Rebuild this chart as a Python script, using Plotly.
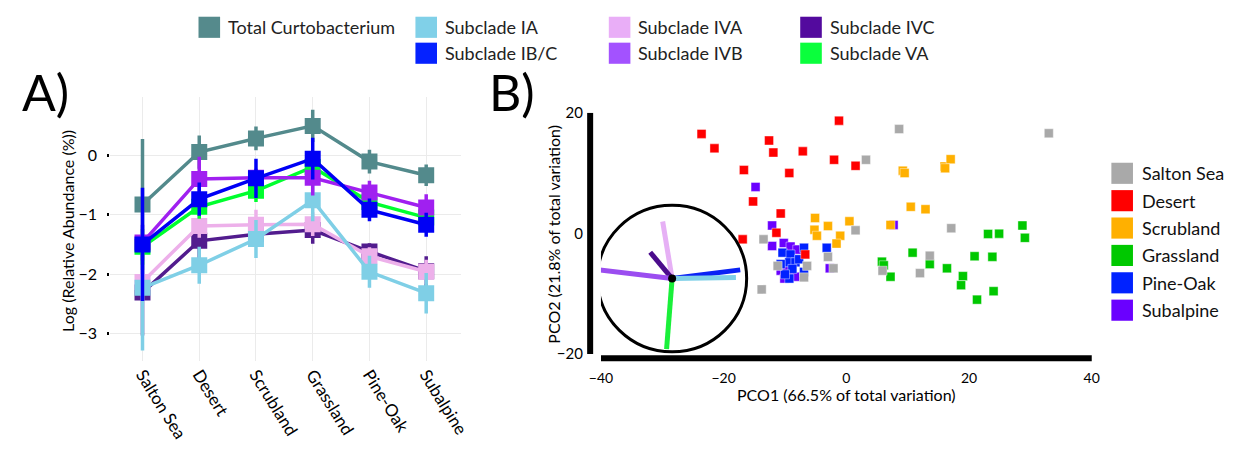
import plotly.graph_objects as go

W, H = 1249, 457
FONT = "Lato"

# ---------------- Panel A data ----------------
habitats = ["Salton Sea", "Desert", "Scrubland", "Grassland", "Pine-Oak", "Subalpine"]
series_names = ["Total Curtobacterium", "Subclade IA", "Subclade IB/C", "Subclade IVA",
                "Subclade IVB", "Subclade IVC", "Subclade VA"]

total_mean = [-0.83, 0.05, 0.28, 0.49, -0.11, -0.34]
total_err = [1.10, 0.28, 0.20, 0.27, 0.20, 0.18]
ia_mean = [-2.23, -1.85, -1.41, -0.76, -1.96, -2.32]
ia_err = [1.05, 0.31, 0.32, 0.35, 0.27, 0.34]
ibc_mean = [-1.50, -0.74, -0.39, -0.06, -0.92, -1.17]
ibc_err = [0.95, 0.28, 0.33, 0.35, 0.19, 0.20]
iva_mean = [-2.13, -1.19, -1.17, -1.16, -1.70, -1.96]
iva_err = [0.50, 0.20, 0.25, 0.20, 0.15, 0.20]
ivb_mean = [-1.47, -0.40, -0.38, -0.38, -0.63, -0.88]
ivb_err = [0.30, 0.37, 0.15, 0.30, 0.20, 0.22]
ivc_mean = [-2.31, -1.44, -1.33, -1.26, -1.62, -1.95]
ivc_err = [0.72, 0.35, 0.10, 0.23, 0.14, 0.25]
va_mean = [-1.54, -0.87, -0.60, -0.20, -0.79, -1.05]
va_err = [0.30, 0.20, 0.19, 0.20, 0.15, 0.15]

line_colors = ["#538A8C", "#7FCFE6", "#0000F5", "#EDB0EA", "#A020F0", "#521C8E", "#00FF2E"]
legend_colors = ["#558A8C", "#80D0E8", "#0522FF", "#E9AEF7", "#A352FF", "#530A9E", "#0AFF3C"]

# ---------------- Panel B data ----------------
habitat_colors = ["#A9A9A9", "#FF0000", "#FFB000", "#00C800", "#0022FF", "#6A00FF"]

salton_x = [-13.5, -13.8, -11.2, -6.4, -6.9, -3.0, -2.1, 1.5, 8.6, 33.0, 3.2, 17.1, 13.6, 5.9, 12.0]
salton_y = [-1.0, -9.3, -5.4, -5.4, -7.3, -3.9, -5.8, 0.5, 17.3, 16.6, 12.2, 0.85, -3.7, -6.2, -6.6]
desert_x = [-23.6, -21.5, -12.6, -11.9, -7.1, -1.2, -2.0, 1.5, -16.7, -9.3, -15.2, -10.7, -11.4, -16.9, -6.7]
desert_y = [16.5, 14.1, 15.4, 13.4, 13.6, 18.7, 12.2, 11.2, 10.5, 10.0, 5.3, 3.3, 0.1, -1.0, -3.5]
scrub_x = [-5.1, -3.0, -5.2, -4.8, -1.0, -1.6, 0.5, 7.2, 9.2, 9.5, 16.0, 17.0, 16.1, 10.5, 12.9]
scrub_y = [2.55, 1.2, 0.6, -0.4, -0.4, -1.7, 2.0, 1.4, 10.4, 10.0, 11.1, 12.3, 10.8, 4.4, 4.0]
grass_x = [28.7, 29.1, 23.1, 24.9, 10.8, 20.9, 23.8, 5.8, 6.1, 13.6, 16.4, 7.2, 19.0, 18.7, 24.0, 21.3]
grass_y = [1.3, -0.75, -0.1, -0.05, -3.2, -3.8, -3.9, -4.7, -5.3, -5.1, -5.8, -7.2, -7.1, -8.6, -9.6, -11.0]
pine_x = [-6.9, -10.4, -9.1, -9.3, -8.3, -10.7, -6.9, -9.3, -3.2, -8.8, -7.7, -10.0]
pine_y = [-2.4, -3.2, -3.5, -4.8, -4.8, -5.1, -6.4, -7.5, -2.4, -5.9, -4.3, -6.8]
subalp_x = [-14.8, -12.1, -12.1, -10.2, -9.1, -8.0, -10.7, -10.1, -8.3, -2.7, 7.7, -9.6]
subalp_y = [7.7, 1.3, -2.1, -1.6, -2.2, -2.7, -6.2, -7.5, -7.2, -5.8, 1.4, -6.2]

# biplot (vector overlay) data
biplot_center = (-28.4, -7.5)
biplot_radius = 12.15
vector_names = ["Subclade IVA", "Subclade IVC", "Subclade IVB", "Subclade IB/C", "Subclade IA", "Subclade VA"]
vector_dx = [-1.54, -3.57, -11.78, 11.10, 10.40, -0.90]
vector_dy = [9.46, 4.36, 1.44, 1.44, 0.16, -11.70]
vector_colors = ["#E6B0F5", "#4B0C8C", "#9B4DF0", "#0A22F5", "#7FD0E8", "#1AF03A"]


def px(x):
    return x / W


def py(y):
    return 1 - y / H


fig = go.Figure()

panelA = {
    "Total Curtobacterium": (total_mean, total_err),
    "Subclade IVC": (ivc_mean, ivc_err),
    "Subclade IVA": (iva_mean, iva_err),
    "Subclade IA": (ia_mean, ia_err),
    "Subclade VA": (va_mean, va_err),
    "Subclade IVB": (ivb_mean, ivb_err),
    "Subclade IB/C": (ibc_mean, ibc_err),
}
for name, (mean, err) in panelA.items():
    c = line_colors[series_names.index(name)]
    fig.add_trace(go.Scatter(
        x=habitats, y=mean, name=name, mode="lines+markers",
        line=dict(color=c, width=3.5),
        marker=dict(symbol="square", size=16, color=c, line=dict(width=0)),
        error_y=dict(type="data", array=err, thickness=3.5, width=0, color=c),
        xaxis="x", yaxis="y", showlegend=False,
    ))

groups = [
    ("Subalpine", subalp_x, subalp_y),
    ("Pine-Oak", pine_x, pine_y),
    ("Grassland", grass_x, grass_y),
    ("Scrubland", scrub_x, scrub_y),
    ("Desert", desert_x, desert_y),
    ("Salton Sea", salton_x, salton_y),
]
for name, xs, ys in groups:
    c = habitat_colors[habitats.index(name)]
    fig.add_trace(go.Scatter(
        x=xs, y=ys, mode="markers", name=name,
        marker=dict(symbol="square", size=9, color=c,
                    line=dict(width=0.6, color="rgba(255,255,255,0.7)")),
        xaxis="x2", yaxis="y2", showlegend=False,
    ))

cx, cy = biplot_center
for name, dx, dy, c in zip(vector_names, vector_dx, vector_dy, vector_colors):
    fig.add_trace(go.Scatter(
        x=[cx, cx + dx], y=[cy, cy + dy], mode="lines", name=name,
        line=dict(color=c, width=5), xaxis="x2", yaxis="y2", showlegend=False,
    ))
fig.add_trace(go.Scatter(
    x=[cx], y=[cy], mode="markers", marker=dict(color="black", size=8),
    xaxis="x2", yaxis="y2", showlegend=False,
))

shapes = []
annotations = []

shapes.append(dict(type="circle", xref="x2", yref="y2",
                   x0=cx - biplot_radius, x1=cx + biplot_radius,
                   y0=cy - biplot_radius, y1=cy + biplot_radius,
                   line=dict(color="black", width=3)))
# Panel B range-frame axis bars
shapes.append(dict(type="line", xref="paper", yref="y2", x0=px(589), x1=px(589),
                   y0=-20, y1=20, line=dict(color="black", width=6)))
shapes.append(dict(type="line", xref="x2", yref="paper", x0=-40, x1=40.3,
                   y0=py(362.5), y1=py(362.5), line=dict(color="black", width=6)))

legend_slots = {
    "Total Curtobacterium": (190, 18),
    "Subclade IA": (411, 18),
    "Subclade IB/C": (411, 45),
    "Subclade IVA": (608, 18),
    "Subclade IVB": (608, 45),
    "Subclade IVC": (803, 18),
    "Subclade VA": (803, 45),
}
for name, (lx, ly) in legend_slots.items():
    c = legend_colors[series_names.index(name)]
    shapes.append(dict(type="rect", xref="paper", yref="paper",
                       x0=px(lx), x1=px(lx + 22), y0=py(ly + 11), y1=py(ly - 11),
                       fillcolor=c, line=dict(width=0)))
    annotations.append(dict(text=name, xref="paper", yref="paper", x=px(lx + 28), y=py(ly),
                            xanchor="left", yanchor="middle", showarrow=False,
                            font=dict(size=18, color="#222222", family=FONT)))

for i, name in enumerate(habitats):
    ly = 170 + i * 28.5
    shapes.append(dict(type="rect", xref="paper", yref="paper",
                       x0=px(1120), x1=px(1142), y0=py(ly + 11), y1=py(ly - 11),
                       fillcolor=habitat_colors[i], line=dict(width=0)))
    annotations.append(dict(text=name, xref="paper", yref="paper", x=px(1149), y=py(ly),
                            xanchor="left", yanchor="middle", showarrow=False,
                            font=dict(size=18, color="#111111", family=FONT)))

annotations += [
    dict(text="A)", xref="paper", yref="paper", x=px(34), y=py(85), showarrow=False,
         xanchor="center", yanchor="middle", font=dict(size=50, color="black", family=FONT)),
    dict(text="B)", xref="paper", yref="paper", x=px(509), y=py(85), showarrow=False,
         xanchor="center", yanchor="middle", font=dict(size=50, color="black", family=FONT)),
    dict(text="Log (Relative Abundance (%))", xref="paper", yref="paper", x=px(57), y=py(230),
         textangle=-90, showarrow=False, xanchor="center", yanchor="middle",
         font=dict(size=16, color="black", family=FONT)),
    dict(text="PCO1 (66.5% of total variation)", xref="paper", yref="paper", x=px(850), y=py(400),
         showarrow=False, xanchor="center", yanchor="middle",
         font=dict(size=16, color="black", family=FONT)),
    dict(text="PCO2 (21.8% of total variation)", xref="paper", yref="paper", x=px(552), y=py(233),
         textangle=-90, showarrow=False, xanchor="center", yanchor="middle",
         font=dict(size=16, color="black", family=FONT)),
]

fig.update_layout(
    width=W, height=H,
    margin=dict(l=0, r=0, t=0, b=0),
    paper_bgcolor="white", plot_bgcolor="white",
    font=dict(family=FONT, color="black"),
    showlegend=False,
    xaxis=dict(domain=[px(100), px(457)], range=[-0.57, 5.606], type="category",
               showgrid=True, gridcolor="#EBEBEB", gridwidth=1, zeroline=False,
               showline=False, ticks="", tickangle=58,
               tickfont=dict(size=17, family=FONT, color="black")),
    yaxis=dict(domain=[py(365), py(91)], range=[-3.452, 0.968], tickvals=[-3, -2, -1, 0],
               showgrid=True, gridcolor="#EBEBEB", gridwidth=1, zeroline=False,
               showline=False, ticks="outside", ticklen=2, tickwidth=2.5, tickcolor="black",
               ticklabelstandoff=7,
               tickfont=dict(size=16, family=FONT, color="black")),
    xaxis2=dict(domain=[px(600), px(1100)], range=[-40, 40], tickvals=[-40, -20, 0, 20, 40],
                anchor="y2", showgrid=False, zeroline=False, showline=False,
                ticks="outside", ticklen=11, tickcolor="rgba(0,0,0,0)",
                tickfont=dict(size=14, family=FONT, color="black")),
    yaxis2=dict(domain=[py(358), py(107)], range=[-20, 20], tickvals=[-20, 0, 20],
                anchor="x2", showgrid=False, zeroline=False, showline=False,
                ticks="outside", ticklen=14, tickcolor="rgba(0,0,0,0)",
                tickfont=dict(size=15, family=FONT, color="black")),
    shapes=shapes,
    annotations=annotations,
)

fig.write_html("out.html")
